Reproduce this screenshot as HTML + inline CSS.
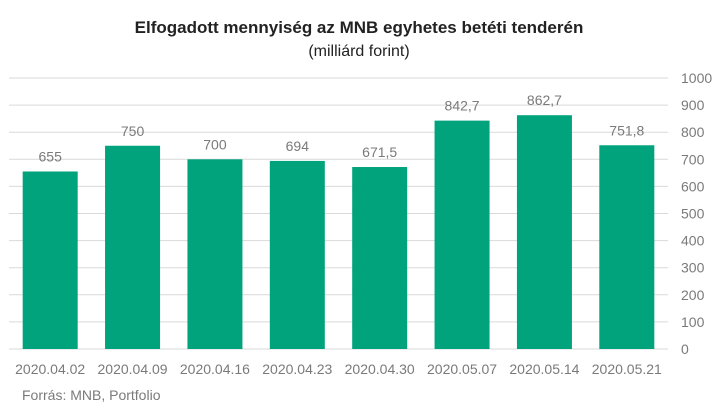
<!DOCTYPE html>
<html><head><meta charset="utf-8"><style>
body{margin:0;background:#fff;font-family:"Liberation Sans",sans-serif}
</style></head><body>
<svg width="718" height="415" xmlns="http://www.w3.org/2000/svg" font-family="Liberation Sans, sans-serif">
<text x="359" y="33" text-anchor="middle" font-size="17" font-weight="bold" fill="#222">Elfogadott mennyiség az MNB egyhetes betéti tenderén</text>
<text x="359" y="56" text-anchor="middle" font-size="16" fill="#222">(milliárd forint)</text>
<g id="grid"></g><g id="bars"></g><g id="xl"></g><g id="yl"></g>
<text x="22" y="400" font-size="14" fill="#7a7a7a">Forrás: MNB, Portfolio</text>
</svg>
<script>
const categories=["2020.04.02","2020.04.09","2020.04.16","2020.04.23","2020.04.30","2020.05.07","2020.05.14","2020.05.21"];
const values=[655,750,700,694,671.5,842.7,862.7,751.8];
const valueLabels=["655","750","700","694","671,5","842,7","862,7","751,8"];
const yTicks=[0,100,200,300,400,500,600,700,800,900,1000];
const NS="http://www.w3.org/2000/svg";
const L=9,R=668,Y0=349,Y1=78;
const y=v=>Y0-(v/1000)*(Y0-Y1);
const step=(R-L)/categories.length;
const x=i=>L+i*step;
function mk(t,a,p,txt){const e=document.createElementNS(NS,t);for(const k in a)e.setAttribute(k,a[k]);if(txt!==undefined)e.textContent=txt;document.getElementById(p).appendChild(e);return e;}
yTicks.forEach(t=>{
 const g=mk('line',{x1:L,x2:R,y1:y(t),y2:y(t),stroke:'#d9d9d9','stroke-width':1},'grid');
 
 
 const l=mk('text',{x:681,y:y(t)+5,'font-size':14,fill:'#7a7a7a'},'yl',String(t));
 
 
});
values.forEach((v,i)=>{
 const bw=55,bx=x(i)+(step-bw)/2;
 const b=mk('rect',{x:bx,y:y(v),width:bw,height:Y0-y(v),fill:'#00a37c'},'bars');
 
 
 const vl=mk('text',{x:bx+bw/2,y:y(v)-10,'text-anchor':'middle','font-size':14,fill:'#7a7a7a'},'bars',valueLabels[i]);
 
 
 const xl=mk('text',{x:bx+bw/2,y:374,'text-anchor':'middle','font-size':14,fill:'#7a7a7a'},'xl',categories[i]);
 
 
});
</script>
</body></html>
